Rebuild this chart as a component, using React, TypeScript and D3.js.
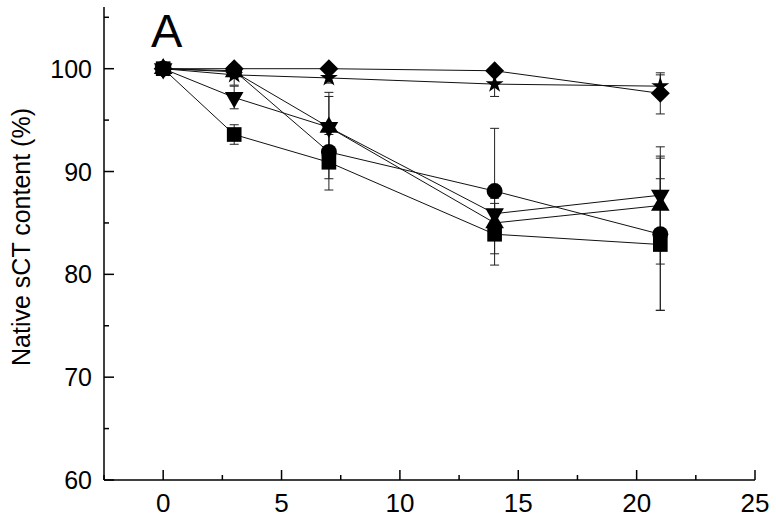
import React from 'react';
import * as d3 from 'd3';

// days of storage
const days = [0, 3, 7, 14, 21];

// native sCT content (%) per formulation, with SD
const squareVals = [100, 93.6, 90.9, 83.9, 82.9];
const squareErr = [0, 0.95, 2.7, 3.0, 6.4];
const circleVals = [100, 99.8, 91.9, 88.1, 83.9];
const circleErr = [0, 0.3, 2.6, 6.1, 7.4];
const upTriVals = [100, 99.7, 94.3, 85.0, 86.7];
const upTriErr = [0, 0.5, 3.0, 1.2, 5.7];
const downTriVals = [100, 97.2, 94.3, 85.9, 87.7];
const downTriErr = [0, 1.1, 3.4, 1.5, 3.8];
const diamondVals = [100, 100, 100, 99.8, 97.6];
const diamondErr = [0, 0.3, 0.3, 0.3, 2.0];
const starVals = [100, 99.4, 99.1, 98.5, 98.3];
const starErr = [0, 1.0, 0.5, 1.2, 1.1];

const xTicks = [0, 5, 10, 15, 20, 25];
const xMinor = [-2.5, 2.5, 7.5, 12.5, 17.5, 22.5];
const yTicks = [60, 70, 80, 90, 100];
const yMinor = [65, 75, 85, 95, 105];

const W = 776;
const H = 520;

const x = d3.scaleLinear().domain([-2.5, 25]).range([104, 755]);
const y = d3.scaleLinear().domain([60, 106]).range([480, 7]);

const series = [
  { name: 'square', vals: squareVals, err: squareErr, symbol: d3.symbolSquare, size: 215, rotate: 0 },
  { name: 'circle', vals: circleVals, err: circleErr, symbol: d3.symbolCircle, size: 200, rotate: 0 },
  { name: 'up', vals: upTriVals, err: upTriErr, symbol: d3.symbolTriangle, size: 150, rotate: 0 },
  { name: 'down', vals: downTriVals, err: downTriErr, symbol: d3.symbolTriangle, size: 150, rotate: 180 },
  { name: 'diamond', vals: diamondVals, err: diamondErr, symbol: d3.symbolSquare, size: 180, rotate: 45 },
  { name: 'star', vals: starVals, err: starErr, symbol: d3.symbolStar, size: 100, rotate: 0 },
];

const font = '"Liberation Sans", Arial, sans-serif';

export default function App() {
  const line = d3.line<number>().x((_, i) => x(days[i])).y(d => y(d));

  return (
    <svg width={W} height={H} style={{ position: 'absolute', left: 0, top: 0, background: 'white' }}>
      {/* connecting lines */}
      {series.map(s => (
        <path key={'l' + s.name} d={line(s.vals) || ''} fill="none" stroke="#111" strokeWidth={1} />
      ))}

      {/* error bars */}
      {series.map(s =>
        s.vals.map((v, i) => {
          if (!s.err[i]) return null;
          const cx = x(days[i]);
          const y1 = y(v + s.err[i]);
          const y2 = y(v - s.err[i]);
          return (
            <g key={'e' + s.name + i} stroke="#222" strokeWidth={1}>
              <line x1={cx} x2={cx} y1={y1} y2={y2} />
              <line x1={cx - 4.5} x2={cx + 4.5} y1={y1} y2={y1} />
              <line x1={cx - 4.5} x2={cx + 4.5} y1={y2} y2={y2} />
            </g>
          );
        })
      )}

      {/* markers */}
      {series.map(s =>
        s.vals.map((v, i) => (
          <path
            key={'m' + s.name + i}
            d={d3.symbol().type(s.symbol).size(s.size)() || ''}
            transform={`translate(${x(days[i])},${y(v)}) rotate(${s.rotate})`}
            fill="#000"
          />
        ))
      )}

      {/* axes */}
      <line x1={x(-2.5)} x2={x(25)} y1={y(60)} y2={y(60)} stroke="#000" strokeWidth={1.5} />
      <line x1={x(-2.5)} x2={x(-2.5)} y1={y(60)} y2={y(106)} stroke="#000" strokeWidth={1.5} />

      {xTicks.map(t => (
        <g key={'xt' + t}>
          <line x1={x(t)} x2={x(t)} y1={y(60)} y2={y(60) - 10} stroke="#000" strokeWidth={1.5} />
          <text x={x(t)} y={512} textAnchor="middle" fontFamily={font} fontSize={26} fill="#000">
            {t}
          </text>
        </g>
      ))}
      {xMinor.map(t => (
        <line key={'xm' + t} x1={x(t)} x2={x(t)} y1={y(60)} y2={y(60) - 5} stroke="#000" strokeWidth={1.5} />
      ))}

      {yTicks.map(t => (
        <g key={'yt' + t}>
          <line x1={x(-2.5)} x2={x(-2.5) + 10} y1={y(t)} y2={y(t)} stroke="#000" strokeWidth={1.5} />
          <text x={92} y={y(t) + 9} textAnchor="end" fontFamily={font} fontSize={25} fill="#000">
            {t}
          </text>
        </g>
      ))}
      {yMinor.map(t => (
        <line key={'ym' + t} x1={x(-2.5)} x2={x(-2.5) + 5} y1={y(t)} y2={y(t)} stroke="#000" strokeWidth={1.5} />
      ))}

      <text
        transform="translate(30,237) rotate(-90)"
        textAnchor="middle"
        fontFamily={font}
        fontSize={25}
        fill="#000"
      >
        Native sCT content (%)
      </text>

      <text x={151} y={47} fontFamily={font} fontSize={47} fill="#000">
        A
      </text>
    </svg>
  );
}
